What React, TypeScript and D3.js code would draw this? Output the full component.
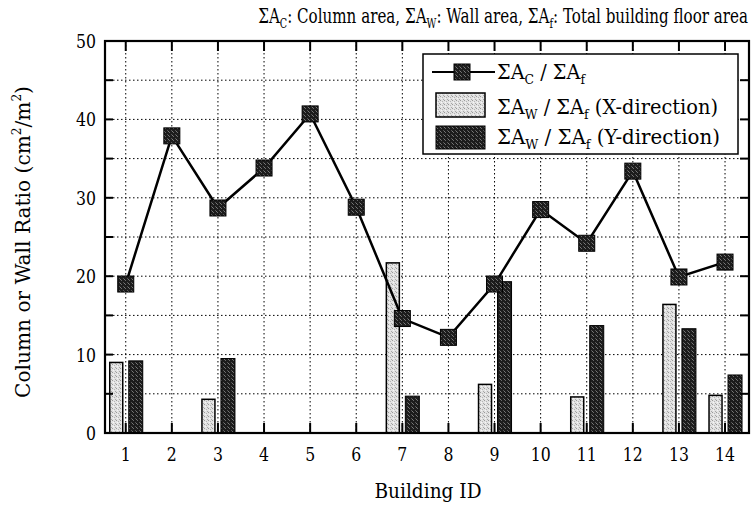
import React, { useLayoutEffect, useRef, useState } from "react";
import * as d3 from "d3";

// Building IDs along the x axis
const buildings = [1, 2, 3, 4, 5, 6, 7, 8, 9, 10, 11, 12, 13, 14];
// Column area / total floor area (cm²/m²)
const columnRatio = [19.0, 37.9, 28.7, 33.8, 40.7, 28.8, 14.6, 12.2, 19.0, 28.5, 24.2, 33.4, 19.9, 21.8];
// Wall area / total floor area, X-direction
const wallRatioX = [9.0, 0, 4.3, 0, 0, 0, 21.7, 0, 6.2, 0, 4.6, 0, 16.4, 4.8];
// Wall area / total floor area, Y-direction
const wallRatioY = [9.2, 0, 9.5, 0, 0, 0, 4.7, 0, 19.3, 0, 13.7, 0, 13.3, 7.4];
// Y axis labels and gridline levels
const yTicks = [0, 10, 20, 30, 40, 50];
const yGrid = [5, 10, 15, 20, 25, 30, 35, 40, 45];

const W = 752;
const H = 506;
const FONT = "DejaVu Serif, serif";

type FitProps = {
  x: number;
  y: number;
  size: number;
  anchor?: "start" | "middle" | "end";
  width?: number; // target rendered width; horizontal scale is fitted to it
  sx?: number; // fixed horizontal scale when no width is given
  rotate?: number;
  children: React.ReactNode;
};

// Serif text squeezed horizontally to a given width (narrow book-face look)
function FitText({ x, y, size, anchor = "start", width, sx = 0.86, rotate = 0, children }: FitProps) {
  const ref = useRef<SVGTextElement>(null);
  const [scale, setScale] = useState(sx);
  useLayoutEffect(() => {
    if (width && ref.current) {
      const w = ref.current.getComputedTextLength();
      if (w > 0) setScale(width / w);
    }
  }, [width]);
  return (
    <g transform={`translate(${x},${y}) rotate(${rotate}) scale(${scale},1)`}>
      <text
        ref={ref}
        x={0}
        y={0}
        fontSize={size}
        textAnchor={anchor}
        fill="#000"
        style={{ fontFamily: FONT }}
      >
        {children}
      </text>
    </g>
  );
}

export default function App() {
  const left = 105;
  const right = 749;
  const top = 41;
  const bottom = 433;

  const x = d3.scaleLinear().domain([0.55, 14.52]).range([left, right]);
  const y = d3.scaleLinear().domain([0, 50]).range([bottom, top]);

  const line = d3
    .line<number>()
    .x((_, i) => x(buildings[i]))
    .y((d) => y(d));

  const barW = 14;

  return (
    <svg
      width={W}
      height={H}
      viewBox={`0 0 ${W} ${H}`}
      style={{ position: "absolute", left: 0, top: 0, background: "#fff" }}
    >
      <defs>
        <pattern id="lightGrain" width="4" height="4" patternUnits="userSpaceOnUse">
          <rect width="4" height="4" fill="#e2e2e2" />
          <rect x="0" y="0" width="1" height="1" fill="#9a9a9a" />
          <rect x="2" y="1" width="1" height="1" fill="#b5b5b5" />
          <rect x="1" y="2" width="1" height="1" fill="#f6f6f6" />
          <rect x="3" y="3" width="1" height="1" fill="#a8a8a8" />
        </pattern>
        <pattern id="darkGrain" width="4" height="4" patternUnits="userSpaceOnUse">
          <rect width="4" height="4" fill="#1c1c1c" />
          <rect x="1" y="0" width="1" height="1" fill="#6a6a6a" />
          <rect x="3" y="2" width="1" height="1" fill="#555" />
          <rect x="0" y="3" width="1" height="1" fill="#7a7a7a" />
        </pattern>
      </defs>

      <rect width={W} height={H} fill="#fff" />

      {/* Title */}
      <FitText x={748} y={23} size={20.5} anchor="end" width={490}>
        ΣA<tspan fontSize={13} dy={5}>C</tspan>
        <tspan dy={-5}>: Column area, ΣA</tspan>
        <tspan fontSize={13} dy={5}>W</tspan>
        <tspan dy={-5}>: Wall area, ΣA</tspan>
        <tspan fontSize={13} dy={5}>f</tspan>
        <tspan dy={-5}>: Total building floor area</tspan>
      </FitText>

      {/* Dotted gridlines */}
      <g stroke="#000" strokeWidth={1} strokeDasharray="1.5,2.5">
        {yGrid.map((v) => (
          <line key={`gy${v}`} x1={left} x2={right} y1={y(v)} y2={y(v)} />
        ))}
        {buildings.map((b) => (
          <line key={`gx${b}`} x1={x(b)} x2={x(b)} y1={top} y2={bottom} />
        ))}
      </g>

      {/* Wall ratio bars */}
      {buildings.map((b, i) =>
        wallRatioX[i] > 0 ? (
          <rect
            key={`bx${b}`}
            x={x(b) - 16}
            y={y(wallRatioX[i])}
            width={barW - 1}
            height={y(0) - y(wallRatioX[i])}
            fill="url(#lightGrain)"
            stroke="#000"
            strokeWidth={1.5}
          />
        ) : null
      )}
      {buildings.map((b, i) =>
        wallRatioY[i] > 0 ? (
          <rect
            key={`by${b}`}
            x={x(b) + 3}
            y={y(wallRatioY[i])}
            width={barW}
            height={y(0) - y(wallRatioY[i])}
            fill="url(#darkGrain)"
            stroke="#000"
            strokeWidth={1}
          />
        ) : null
      )}

      {/* Column ratio line */}
      <path d={line(columnRatio) || ""} fill="none" stroke="#000" strokeWidth={2.5} />
      {columnRatio.map((v, i) => (
        <rect
          key={`m${i}`}
          x={x(buildings[i]) - 8}
          y={y(v) - 8}
          width={16}
          height={16}
          fill="url(#darkGrain)"
          stroke="#000"
          strokeWidth={1}
        />
      ))}

      {/* Axis ticks (inward) */}
      <g stroke="#000" strokeWidth={2}>
        {buildings.map((b) => (
          <g key={`t${b}`}>
            <line x1={x(b)} x2={x(b)} y1={top} y2={top + 10} />
            <line x1={x(b)} x2={x(b)} y1={bottom} y2={bottom - 10} />
          </g>
        ))}
        {yGrid.map((v) => (
          <g key={`ty${v}`}>
            <line x1={left} x2={left + 8} y1={y(v)} y2={y(v)} />
            <line x1={right} x2={right - 9} y1={y(v)} y2={y(v)} />
          </g>
        ))}
      </g>

      {/* Frame */}
      <rect
        x={left}
        y={top}
        width={right - left}
        height={bottom - top}
        fill="none"
        stroke="#000"
        strokeWidth={2.2}
      />

      {/* Tick labels */}
      {yTicks.map((v) => (
        <FitText key={`yl${v}`} x={96} y={y(v) + 7} size={18.5} anchor="end" sx={0.85}>
          {v}
        </FitText>
      ))}
      {buildings.map((b) => (
        <FitText key={`xl${b}`} x={x(b)} y={461} size={18.5} anchor="middle" sx={0.85}>
          {b}
        </FitText>
      ))}

      {/* Axis titles */}
      <FitText x={(left + right) / 2 + 1} y={498} size={19.5} anchor="middle" width={107}>
        Building ID
      </FitText>
      <FitText x={30} y={242} size={20} anchor="middle" width={312} rotate={-90}>
        Column or Wall Ratio (cm
        <tspan fontSize={12} dy={-9}>2</tspan>
        <tspan dy={9}>/m</tspan>
        <tspan fontSize={12} dy={-9}>2</tspan>
        <tspan dy={9}>)</tspan>
      </FitText>

      {/* Legend */}
      <g>
        <rect x={423} y={54} width={315} height={100} fill="#fff" stroke="#000" strokeWidth={1.5} />
        <line x1={432} x2={495} y1={72} y2={72} stroke="#000" strokeWidth={2} />
        <rect x={454} y={64} width={16} height={16} fill="url(#darkGrain)" stroke="#000" strokeWidth={1} />
        <FitText x={497} y={79} size={19.5} width={88}>
          ΣA<tspan fontSize={12.5} dy={5}>C</tspan>
          <tspan dy={-5}> / ΣA</tspan>
          <tspan fontSize={12.5} dy={5}>f</tspan>
        </FitText>

        <rect x={436} y={93} width={49} height={24} fill="url(#lightGrain)" stroke="#000" strokeWidth={1.5} />
        <FitText x={497} y={114} size={19.5} width={221}>
          ΣA<tspan fontSize={12.5} dy={5}>W</tspan>
          <tspan dy={-5}> / ΣA</tspan>
          <tspan fontSize={12.5} dy={5}>f</tspan>
          <tspan dy={-5}> (X-direction)</tspan>
        </FitText>

        <rect x={436} y={126} width={49} height={23} fill="url(#darkGrain)" stroke="#000" strokeWidth={1} />
        <FitText x={497} y={144} size={19.5} width={223}>
          ΣA<tspan fontSize={12.5} dy={5}>W</tspan>
          <tspan dy={-5}> / ΣA</tspan>
          <tspan fontSize={12.5} dy={5}>f</tspan>
          <tspan dy={-5}> (Y-direction)</tspan>
        </FitText>
      </g>
    </svg>
  );
}
